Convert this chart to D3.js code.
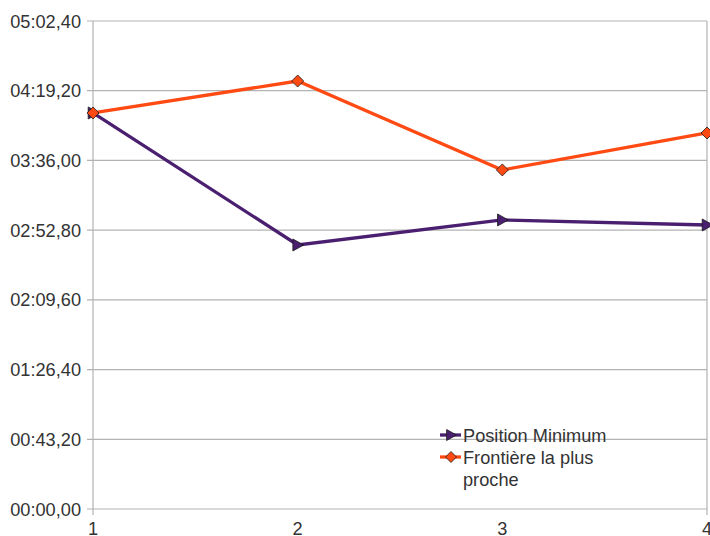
<!DOCTYPE html>
<html>
<head>
<meta charset="utf-8">
<script src="https://cdn.jsdelivr.net/npm/d3@7"></script>
<style>
  html, body { margin: 0; padding: 0; background: #fff; }
  svg text { font-family: 'Liberation Sans', Arial, sans-serif; }
</style>
</head>
<body>
<div id="chart"></div>
<script>
// data (seconds)
const categories = [1, 2, 3, 4]
const positionMinimum = [245.4, 163.6, 179.1, 176.0]
const frontiereProche = [245.4, 265.2, 210.1, 233.0]
const yTicks = [0, 43.2, 86.4, 129.6, 172.8, 216, 259.2, 302.4]
const seriesNames = ['Position Minimum', 'Frontière la plus', 'proche']

const width = 710, height = 536
const M = { top: 21, right: 3, bottom: 27, left: 93 }

const fmt = s => {
  const cs = Math.round(s * 100)
  const m = Math.floor(cs / 6000)
  const sec = Math.floor((cs % 6000) / 100)
  const c = cs % 100
  const p = n => String(n).padStart(2, '0')
  return `${p(m)}:${p(sec)},${p(c)}`
}

const svg = d3.select('#chart').append('svg')
  .attr('width', width).attr('height', height)

const x = d3.scaleLinear().domain([1, 4]).range([M.left, width - M.right])
const y = d3.scaleLinear().domain([0, 302.4]).range([height - M.bottom, M.top])

const grid = '#b3b3b3'
const FS = 18.2

// ── horizontal grid + y ticks ────────────────────────────────
svg.append('g').selectAll('line').data(yTicks).join('line')
  .attr('x1', M.left - 6).attr('x2', width - M.right)
  .attr('y1', d => y(d)).attr('y2', d => y(d))
  .attr('stroke', grid).attr('stroke-width', 1.2)

svg.append('g').selectAll('text').data(yTicks).join('text')
  .attr('x', M.left - 12).attr('y', d => y(d) + 6.5)
  .attr('text-anchor', 'end').attr('font-size', FS).attr('fill', '#333')
  .text(fmt)

// ── vertical lines (axis + right edge) ───────────────────────
svg.append('line')
  .attr('x1', x(1)).attr('x2', x(1)).attr('y1', M.top).attr('y2', y(0) + 6)
  .attr('stroke', grid).attr('stroke-width', 1.2)
svg.append('line')
  .attr('x1', x(4)).attr('x2', x(4)).attr('y1', M.top).attr('y2', y(0) + 6)
  .attr('stroke', grid).attr('stroke-width', 1.2)

svg.append('g').selectAll('text').data(categories).join('text')
  .attr('x', d => x(d)).attr('y', height - 1)
  .attr('text-anchor', 'middle').attr('font-size', FS).attr('fill', '#333')
  .text(d => d)

// ── series ───────────────────────────────────────────────────
const purple = '#4a1f70', orange = '#ff4a14'
const line = d3.line().x((d, i) => x(categories[i])).y(d => y(d))

svg.append('path').datum(positionMinimum)
  .attr('d', line).attr('fill', 'none').attr('stroke', purple).attr('stroke-width', 3.3)
svg.append('path').datum(frontiereProche)
  .attr('d', line).attr('fill', 'none').attr('stroke', orange).attr('stroke-width', 3.3)

const tri = (cx, cy, s) => `M${cx - s * 0.8},${cy - s}L${cx + s},${cy}L${cx - s * 0.8},${cy + s}Z`
const dia = (cx, cy, s) => `M${cx},${cy - s}L${cx + s},${cy}L${cx},${cy + s}L${cx - s},${cy}Z`

svg.append('g').selectAll('path').data(positionMinimum).join('path')
  .attr('d', (d, i) => tri(x(categories[i]), y(d), 6))
  .attr('fill', purple).attr('stroke', '#1a1a1a').attr('stroke-width', 0.8)
svg.append('g').selectAll('path').data(frontiereProche).join('path')
  .attr('d', (d, i) => dia(x(categories[i]), y(d), 6))
  .attr('fill', orange).attr('stroke', '#1a1a1a').attr('stroke-width', 0.8)

// ── legend ───────────────────────────────────────────────────
const lg = svg.append('g').attr('transform', 'translate(440,435)')
lg.append('line').attr('x1', 0).attr('x2', 21).attr('y1', 0).attr('y2', 0)
  .attr('stroke', purple).attr('stroke-width', 3.3)
lg.append('path').attr('d', tri(11, 0, 5.5)).attr('fill', purple).attr('stroke', '#1a1a1a').attr('stroke-width', 0.8)
lg.append('line').attr('x1', 0).attr('x2', 21).attr('y1', 22).attr('y2', 22)
  .attr('stroke', orange).attr('stroke-width', 3.3)
lg.append('path').attr('d', dia(11, 22, 5.5)).attr('fill', orange).attr('stroke', '#1a1a1a').attr('stroke-width', 0.8)

lg.selectAll('text').data(seriesNames).join('text')
  .attr('x', 23).attr('y', (d, i) => i * 22 + 6.5)
  .attr('font-size', FS).attr('fill', '#333')
  .text(d => d)
</script>
</body>
</html>
